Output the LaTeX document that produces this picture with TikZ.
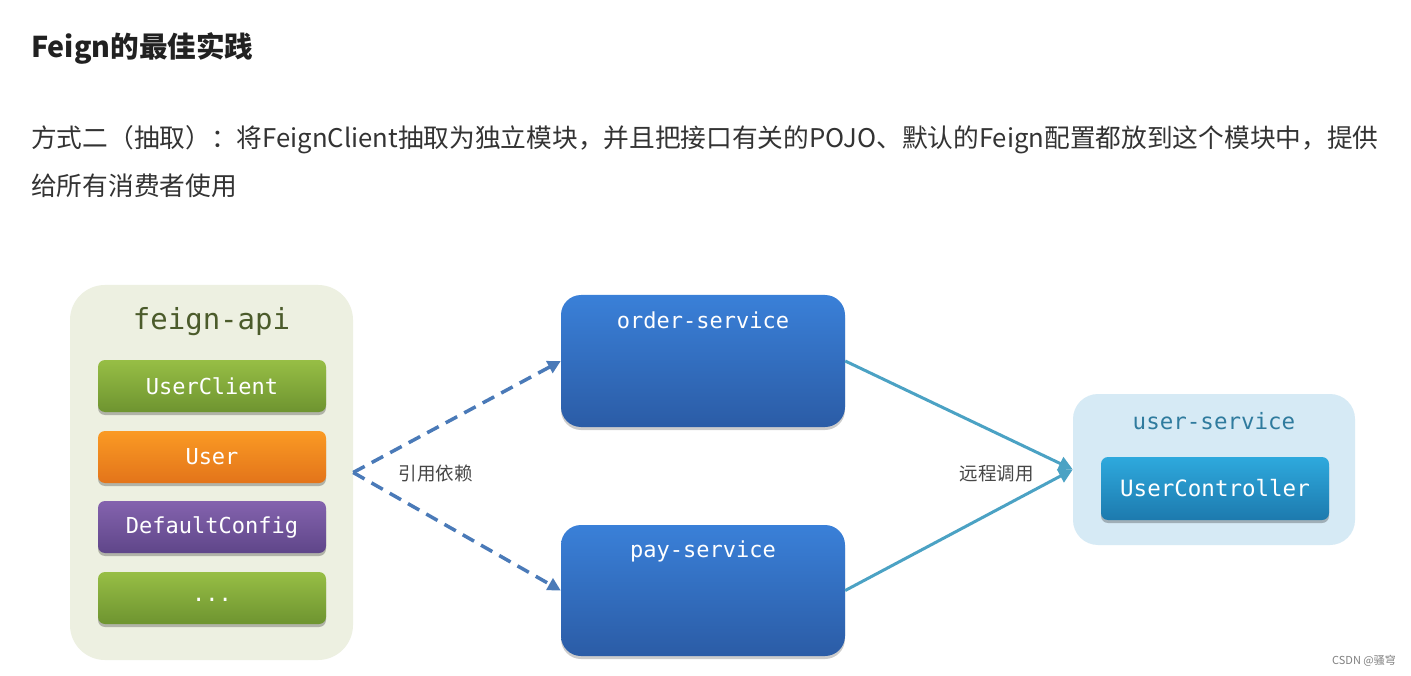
\documentclass[tikz,border=0pt]{standalone}
\usepackage{fontspec}
\setmainfont{Noto Sans CJK SC}
\newfontfamily\monof{DejaVu Sans Mono}
\usetikzlibrary{arrows.meta,shadows}
\definecolor{txt}{HTML}{333333}
\definecolor{faFill}{HTML}{EDF0E1}
\definecolor{faText}{HTML}{4B5B2B}
\definecolor{gTop}{HTML}{97BE45}
\definecolor{gBot}{HTML}{6E9430}
\definecolor{oTop}{HTML}{FA9A24}
\definecolor{oBot}{HTML}{E3741A}
\definecolor{pTop}{HTML}{8463AE}
\definecolor{pBot}{HTML}{5F4689}
\definecolor{bTop}{HTML}{3A80D8}
\definecolor{bBot}{HTML}{2B5CA6}
\definecolor{usFill}{HTML}{D6EAF5}
\definecolor{usText}{HTML}{2F7B9E}
\definecolor{cTop}{HTML}{2EA9DD}
\definecolor{cBot}{HTML}{1D7AAE}
\definecolor{dashC}{HTML}{4A7AB8}
\definecolor{solidC}{HTML}{4BA2C4}
\tikzset{
  item/.style={rounded corners=7pt, minimum width=228pt, minimum height=52pt,
    text=white, font=\monof\fontsize{22}{26}\selectfont,
    drop shadow={shadow xshift=0pt, shadow yshift=-3pt, opacity=0.25, fill=black}},
  svc/.style={rounded corners=20pt, minimum width=284pt, top color=bTop, bottom color=bBot,
    drop shadow={shadow xshift=0pt, shadow yshift=-3pt, opacity=0.2, fill=black}},
  svctitle/.style={text=white, font=\monof\fontsize{22}{26}\selectfont},
  lbl/.style={text=txt!90, font=\fontsize{18.5}{22}\selectfont},
  dep/.style={draw=dashC, line width=3.5pt, dash pattern=on 13pt off 8pt,
    -{Triangle[length=13pt,width=13pt]}},
  call/.style={draw=solidC, line width=3pt, -{Triangle[length=14pt,width=14pt]}},
}
\begin{document}
\begin{tikzpicture}[x=1pt,y=-1pt]
\useasboundingbox[fill=white] (0,0) rectangle (1411,676);

% header text
\node[anchor=west, inner sep=0, text=black!87, font=\fontsize{28.6}{32}\selectfont\bfseries] (title) at (31,48) {Feign的最佳实践};
\node[anchor=west, inner sep=0, text=txt, font=\fontsize{25.7}{30}\selectfont] (line1) at (31,140) {方式二（抽取）：将FeignClient抽取为独立模块，并且把接口有关的POJO、默认的Feign配置都放到这个模块中，提供};
\node[anchor=west, inner sep=0, text=txt, font=\fontsize{25.7}{30}\selectfont] (line2) at (31,186) {给所有消费者使用};

% feign-api module
\node[fill=faFill, rounded corners=35pt, minimum width=283pt, minimum height=375pt] (fa) at (211.5,472.5) {};
\node[text=faText, font=\monof\fontsize{29}{32}\selectfont] (fatitle) at (211.5,322) {feign-api};
\node[item, top color=gTop, bottom color=gBot] (uc) at (212,386) {UserClient};
\node[item, top color=oTop, bottom color=oBot] (usr) at (212,457) {User};
\node[item, top color=pTop, bottom color=pBot] (dc) at (212,527) {DefaultConfig};
\node[item, top color=gTop, bottom color=gBot] (dots) at (212,598) {\raisebox{-6pt}{...}};

% consumers
\node[svc, minimum height=132pt] (os) at (703,361) {};
\node[svctitle] (ostitle) at (703,320) {order-service};
\node[svc, minimum height=131pt] (ps) at (703,590.5) {};
\node[svctitle] (pstitle) at (703,551) {pay-service};

% user-service
\node[fill=usFill, rounded corners=25pt, minimum width=282pt, minimum height=151pt] (us) at (1214,469.5) {};
\node[text=usText, font=\monof\fontsize{22.5}{26}\selectfont] (ustitle) at (1214,421) {user-service};
\node[rounded corners=7pt, minimum width=228pt, minimum height=63pt, top color=cTop, bottom color=cBot,
  text=white, font=\monof\fontsize{22.5}{26}\selectfont,
  drop shadow={shadow xshift=0pt, shadow yshift=-3pt, opacity=0.25, fill=black}] (ctrl) at (1215,488.5) {UserController};

% connectors
\draw[dep] (fa.east) -- (os.west);
\draw[dep] (fa.east) -- (ps.west);
\node[lbl] (deplbl) at (435.5,474) {引用依赖};
\draw[call] (os.east) -- (us.west);
\draw[call] (ps.east) -- (us.west);
\node[lbl] (calllbl) at (996.5,474) {远程调用};

% watermark
\node[anchor=east, inner sep=0, text=black!50, font=\fontsize{11}{13}\selectfont] (wm) at (1396,661) {CSDN @骚穹};
\end{tikzpicture}
\end{document}
